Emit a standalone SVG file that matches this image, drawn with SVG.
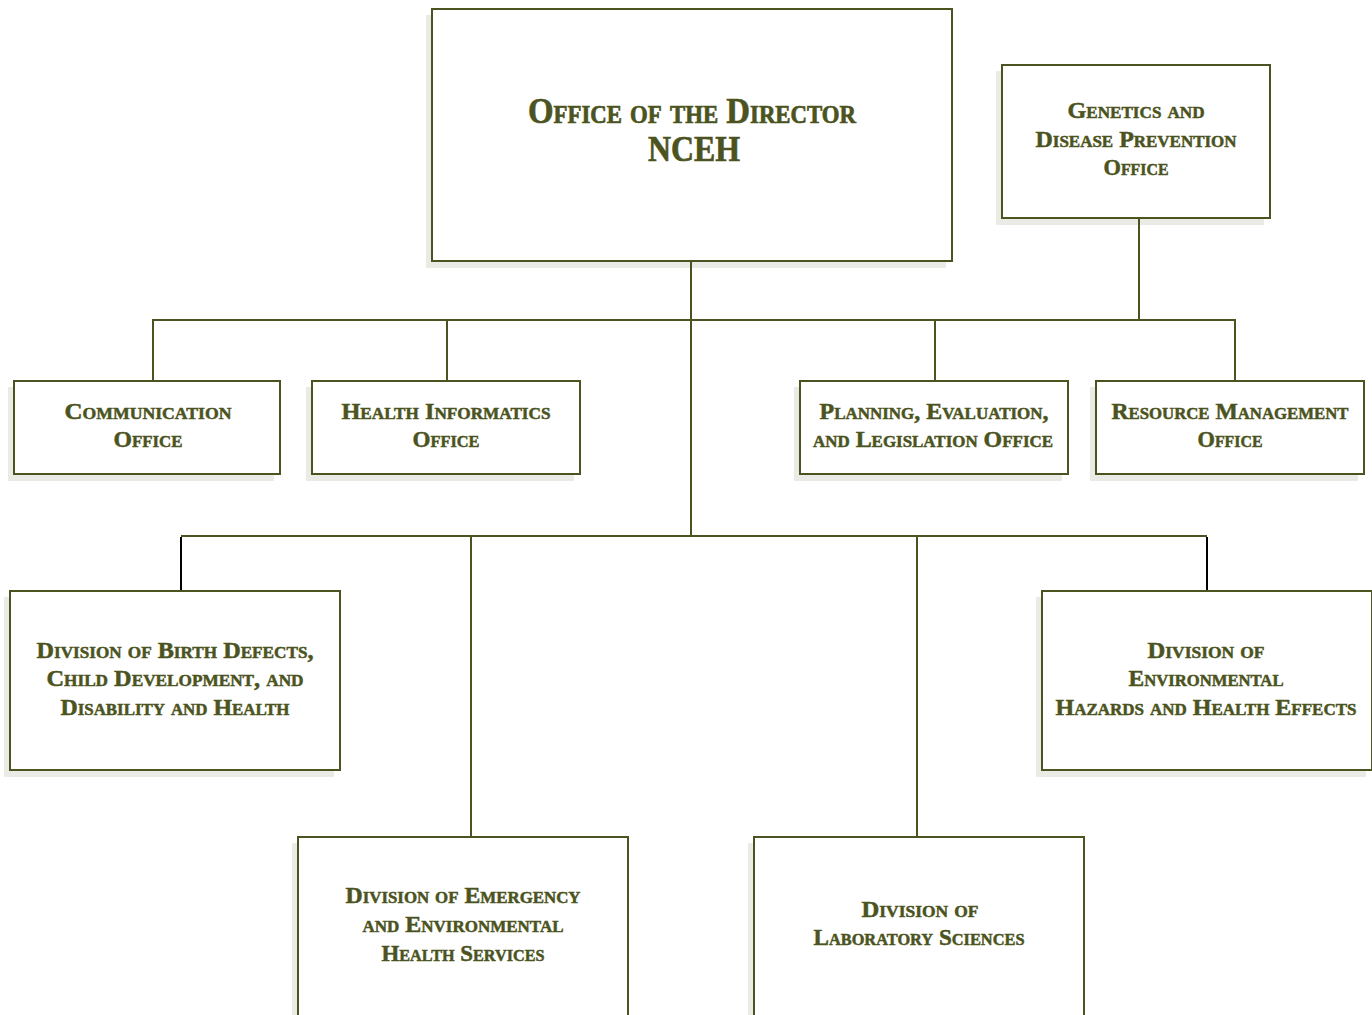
<svg xmlns="http://www.w3.org/2000/svg" width="1372" height="1015" viewBox="0 0 1372 1015">
<style>
.sh{fill:#ebebe6;stroke:none}
.bx{fill:#ffffff;stroke:#4b5320;stroke-width:2}
.t{font-family:"Liberation Serif","Times New Roman",serif;font-weight:bold;font-variant:small-caps;fill:#4b5320;stroke:#4b5320;stroke-width:0.5;text-anchor:middle;font-size:24px}
.tb{font-size:36px;stroke-width:0.7}
.c{fill:none;stroke:#4b5320;stroke-width:2}
.k{fill:none;stroke:#000000;stroke-width:2}
</style>
<rect width="1372" height="1015" fill="#ffffff"/>
<g id="director">
<rect class="sh" x="426" y="15" width="520" height="253"/>
<rect class="bx" x="432" y="9" width="520" height="252"/>
<text class="t tb" x="692" y="123" textLength="328" lengthAdjust="spacingAndGlyphs">Office of the Director</text>
<text class="t tb" x="694" y="161" textLength="92" lengthAdjust="spacingAndGlyphs">NCEH</text>
</g>
<g id="genetics">
<rect class="sh" x="996" y="71" width="268" height="154"/>
<rect class="bx" x="1002" y="65" width="268" height="153"/>
<text class="t" x="1136" y="118" textLength="137" lengthAdjust="spacingAndGlyphs">Genetics and</text>
<text class="t" x="1136" y="147" textLength="201" lengthAdjust="spacingAndGlyphs">Disease Prevention</text>
<text class="t" x="1136" y="175" textLength="65" lengthAdjust="spacingAndGlyphs">Office</text>
</g>
<g id="communication">
<rect class="sh" x="8" y="387" width="266" height="94"/>
<rect class="bx" x="14" y="381" width="266" height="93"/>
<text class="t" x="148" y="419" textLength="167" lengthAdjust="spacingAndGlyphs">Communication</text>
<text class="t" x="148" y="447" textLength="69" lengthAdjust="spacingAndGlyphs">Office</text>
</g>
<g id="informatics">
<rect class="sh" x="306" y="387" width="268" height="94"/>
<rect class="bx" x="312" y="381" width="268" height="93"/>
<text class="t" x="446" y="419" textLength="209" lengthAdjust="spacingAndGlyphs">Health Informatics</text>
<text class="t" x="446" y="447" textLength="67" lengthAdjust="spacingAndGlyphs">Office</text>
</g>
<g id="planning">
<rect class="sh" x="794" y="387" width="268" height="94"/>
<rect class="bx" x="800" y="381" width="268" height="93"/>
<text class="t" x="934" y="419" textLength="229" lengthAdjust="spacingAndGlyphs">Planning, Evaluation,</text>
<text class="t" x="933" y="447" textLength="240" lengthAdjust="spacingAndGlyphs">and Legislation Office</text>
</g>
<g id="resource">
<rect class="sh" x="1090" y="387" width="268" height="94"/>
<rect class="bx" x="1096" y="381" width="268" height="93"/>
<text class="t" x="1230" y="419" textLength="237" lengthAdjust="spacingAndGlyphs">Resource Management</text>
<text class="t" x="1230" y="447" textLength="65" lengthAdjust="spacingAndGlyphs">Office</text>
</g>
<g id="birth-defects">
<rect class="sh" x="4" y="597" width="330" height="180"/>
<rect class="bx" x="10" y="591" width="330" height="179"/>
<text class="t" x="175" y="658" textLength="277" lengthAdjust="spacingAndGlyphs">Division of Birth Defects,</text>
<text class="t" x="175" y="686" textLength="257" lengthAdjust="spacingAndGlyphs">Child Development, and</text>
<text class="t" x="175" y="715" textLength="229" lengthAdjust="spacingAndGlyphs">Disability and Health</text>
</g>
<g id="env-hazards">
<rect class="sh" x="1036" y="597" width="330" height="180"/>
<rect class="bx" x="1042" y="591" width="330" height="179"/>
<text class="t" x="1206" y="658" textLength="117" lengthAdjust="spacingAndGlyphs">Division of</text>
<text class="t" x="1206" y="686" textLength="155" lengthAdjust="spacingAndGlyphs">Environmental</text>
<text class="t" x="1206" y="715" textLength="301" lengthAdjust="spacingAndGlyphs">Hazards and Health Effects</text>
</g>
<g id="emergency">
<rect class="sh" x="292" y="843" width="330" height="190"/>
<rect class="bx" x="298" y="837" width="330" height="190"/>
<text class="t" x="463" y="903" textLength="235" lengthAdjust="spacingAndGlyphs">Division of Emergency</text>
<text class="t" x="463" y="932" textLength="201" lengthAdjust="spacingAndGlyphs">and Environmental</text>
<text class="t" x="463" y="961" textLength="163" lengthAdjust="spacingAndGlyphs">Health Services</text>
</g>
<g id="laboratory">
<rect class="sh" x="748" y="843" width="330" height="190"/>
<rect class="bx" x="754" y="837" width="330" height="190"/>
<text class="t" x="920" y="917" textLength="117" lengthAdjust="spacingAndGlyphs">Division of</text>
<text class="t" x="919" y="945" textLength="211" lengthAdjust="spacingAndGlyphs">Laboratory Sciences</text>
</g>
<g id="connectors">
<path class="c" d="M691 262V536"/>
<path class="c" d="M1139 219V320"/>
<path class="c" d="M153 380V320H1235V380"/>
<path class="c" d="M447 320V380"/>
<path class="c" d="M935 320V380"/>
<path class="c" d="M181 536H1207"/>
<path class="k" d="M181 537V590"/>
<path class="k" d="M1207 537V590"/>
<path class="c" d="M471 536V836"/>
<path class="c" d="M917 536V836"/>
</g>
</svg>
